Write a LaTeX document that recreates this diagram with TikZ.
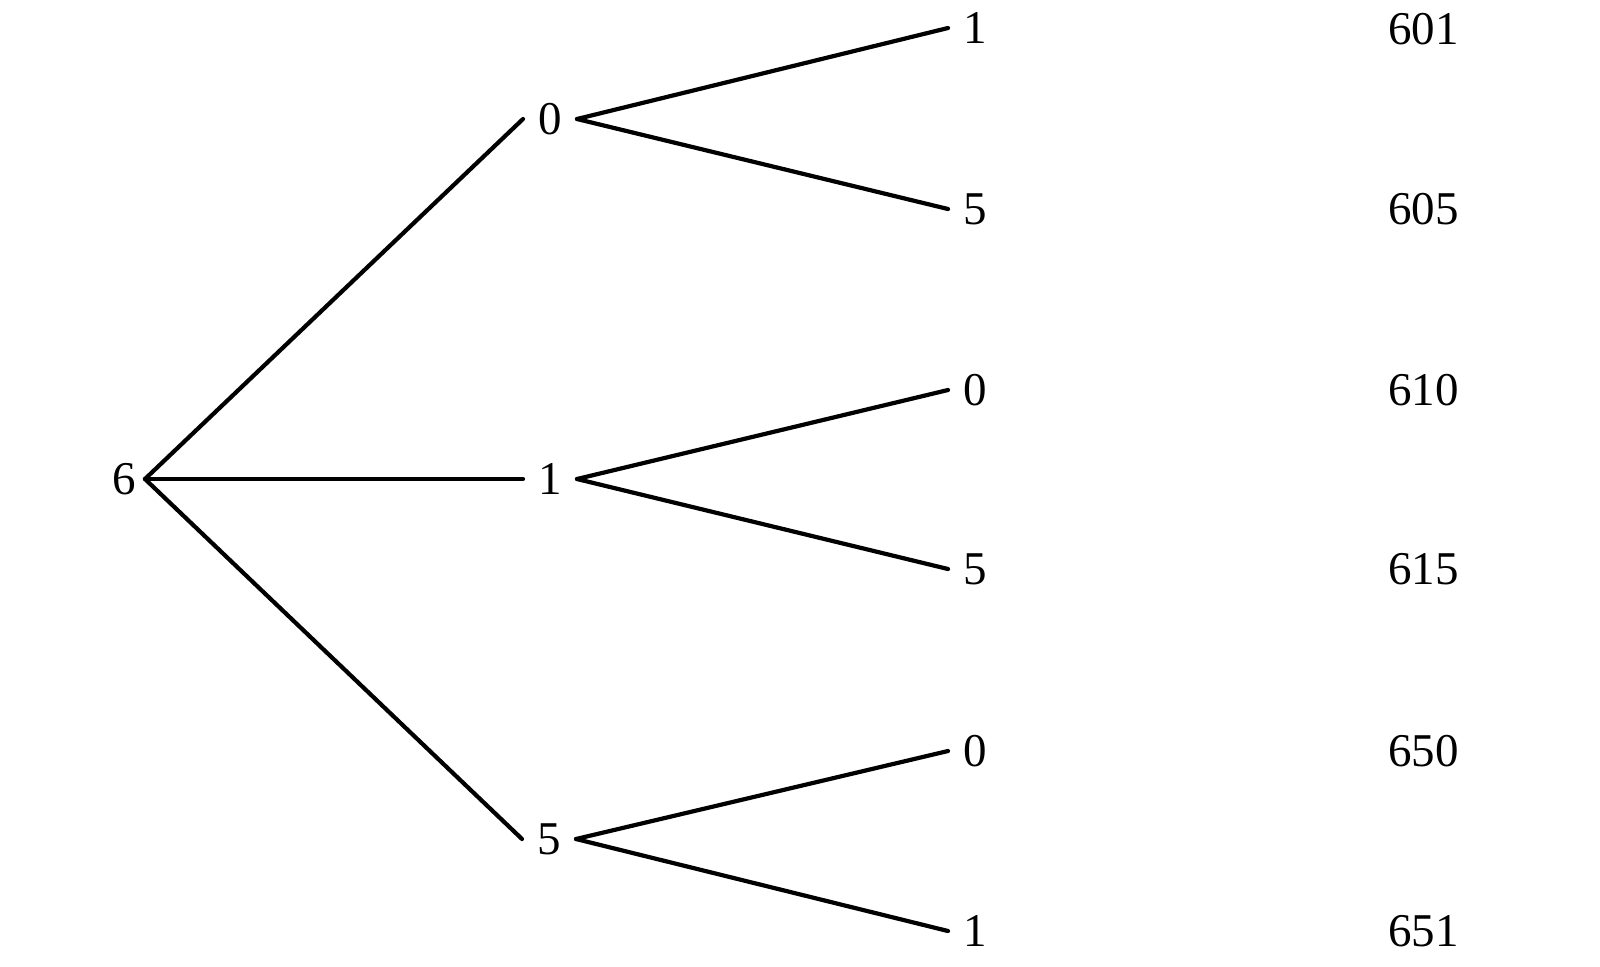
\documentclass[tikz,border=0pt]{standalone}
\usepackage{fontspec}
\setmainfont{Liberation Serif}
\begin{document}
\begin{tikzpicture}[x=0.5pt,y=-0.5pt,
  lbl/.style={inner sep=0pt,outer sep=0pt,minimum width=27pt,font=\fontsize{23.5}{28}\selectfont},
  rootlbl/.style={lbl,minimum width=21pt},
  res/.style={inner sep=0pt,outer sep=0pt,anchor=west,font=\fontsize{23.5}{28}\selectfont},
  edge/.style={line width=2.1pt,line cap=round,line join=round}]
\useasboundingbox (0,0) rectangle (1600,966);
\node[rootlbl] (r) at (124,479) {6};
\node[lbl] (a) at (550,119) {0};
\node[lbl] (b) at (550,479) {1};
\node[lbl] (c) at (549,839) {5};
\node[lbl] (a1) at (975,28) {1};
\node[lbl] (a2) at (975,209) {5};
\node[lbl] (b1) at (975,390) {0};
\node[lbl] (b2) at (975,569) {5};
\node[lbl] (c1) at (975,751) {0};
\node[lbl] (c2) at (975,931) {1};
\node[res] (n1) at (1388,29) {601};
\node[res] (n2) at (1388,209) {605};
\node[res] (n3) at (1388,390) {610};
\node[res] (n4) at (1388,569) {615};
\node[res] (n5) at (1388,751) {650};
\node[res] (n6) at (1388,931) {651};
\draw[edge] (r.east) -- (a.west);
\draw[edge] (r.east) -- (b.west);
\draw[edge] (r.east) -- (c.west);
\draw[edge] (a.east) -- (a1.west);
\draw[edge] (a.east) -- (a2.west);
\draw[edge] (b.east) -- (b1.west);
\draw[edge] (b.east) -- (b2.west);
\draw[edge] (c.east) -- (c1.west);
\draw[edge] (c.east) -- (c2.west);
\end{tikzpicture}
\end{document}
